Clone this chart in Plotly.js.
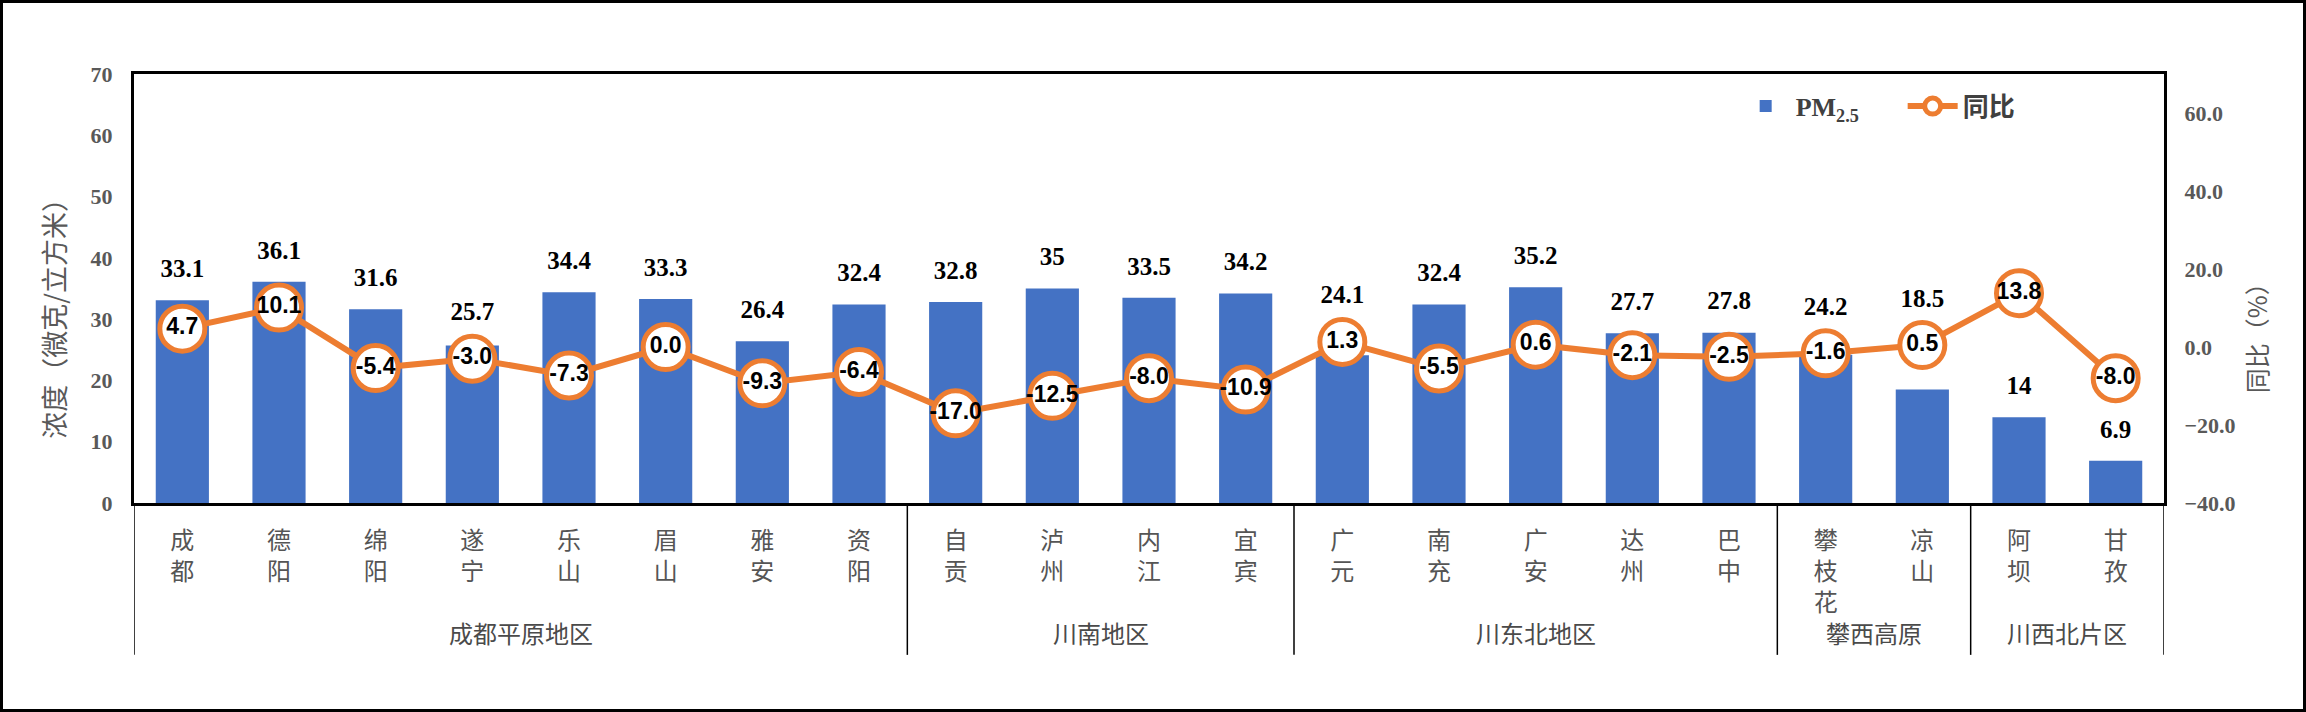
<!DOCTYPE html>
<html><head><meta charset="utf-8">
<script src="https://cdn.plot.ly/plotly-3.0.1.min.js"></script>
<style>
html,body{margin:0;padding:0;background:#fff;}
#wrap{position:relative;width:2306px;height:712px;}
#chart{position:absolute;left:0;top:0;width:2306px;height:712px;}
#frame{position:absolute;left:0;top:0;width:2306px;height:712px;box-sizing:border-box;border:3px solid #000;pointer-events:none;}
</style></head><body>
<div id="wrap"><div id="chart"></div><div id="frame"></div></div>
<script>
const cities = ['成都','德阳','绵阳','遂宁','乐山','眉山','雅安','资阳','自贡','泸州','内江','宜宾','广元','南充','广安','达州','巴中','攀枝花','凉山','阿坝','甘孜'];
const regions = ['成都平原地区','成都平原地区','成都平原地区','成都平原地区','成都平原地区','成都平原地区','成都平原地区','成都平原地区',
  '川南地区','川南地区','川南地区','川南地区',
  '川东北地区','川东北地区','川东北地区','川东北地区','川东北地区',
  '攀西高原','攀西高原',
  '川西北片区','川西北片区'];
const pm25 = [33.1,36.1,31.6,25.7,34.4,33.3,26.4,32.4,32.8,35,33.5,34.2,24.1,32.4,35.2,27.7,27.8,24.2,18.5,14,6.9];
const yoy = [4.7,10.1,-5.4,-3.0,-7.3,0.0,-9.3,-6.4,-17.0,-12.5,-8.0,-10.9,1.3,-5.5,0.6,-2.1,-2.5,-1.6,0.5,13.8,-8.0];
const leftTicks = [0,10,20,30,40,50,60,70];
const rightTicks = [-40,-20,0,20,40,60];
const leftTitle = '浓度（微克/立方米）';
const rightTitle = '同比（%）';

const Y1 = [0,70], Y2 = [-40,70];
const x = cities.map(c => c.split('').join('<br>'));
const toLeft = r => (r - Y2[0]) / (Y2[1]-Y2[0]) * (Y1[1]-Y1[0]) + Y1[0];
// place bar labels above bar, or above the line marker if it sits near the bar top
const labelY = pm25.map((v,i) => {
  const m = toLeft(yoy[i]);
  let y = v + 4.8;
  if (m > v - 3 && m < v + 10) y = Math.max(y, m + 7.3);
  return y;
});

// region groups: boundaries and centres derived from the regions array
const groups = [];
regions.forEach((r,i) => {
  if (!groups.length || groups[groups.length-1].name !== r) groups.push({name:r, start:i, end:i});
  else groups[groups.length-1].end = i;
});
const cjk = 'Noto Sans CJK SC';
const shapes = [];
const annotations = [];
groups.forEach((g,k) => {
  if (k === 0) shapes.push({type:'line', xref:'x', yref:'paper', x0:g.start-0.5, x1:g.start-0.5, y0:0, y1:-0.354, line:{color:'#000', width:1.5}});
  shapes.push({type:'line', xref:'x', yref:'paper', x0:g.end+0.5, x1:g.end+0.5, y0:0, y1:-0.354, line:{color:'#000', width:1.5}});
  annotations.push({xref:'x', yref:'paper', x:(g.start+g.end)/2, y:-0.303, yanchor:'middle', xanchor:'center',
    text:g.name, showarrow:false, font:{family:cjk, size:24, color:'#4a4a4a'}});
});
// axis titles (placed as in the reference, slightly below the axis centre)
annotations.push({xref:'paper', yref:'paper', x:-0.0397, y:0.447, textangle:-90, showarrow:false,
  xanchor:'center', yanchor:'middle', text:leftTitle, font:{family:cjk, size:27, color:'#595959'}});
annotations.push({xref:'paper', yref:'paper', x:1.0453, y:0.40, textangle:-90, showarrow:false,
  xanchor:'center', yanchor:'middle', text:rightTitle, font:{family:cjk, size:25, color:'#595959'}});

const traces = [
  {type:'bar', x:x, y:pm25, name:'<span style="font-family:Liberation Serif;font-weight:bold">PM<sub>2.5</sub></span>',
   marker:{color:'#4472C4'}, hoverinfo:'skip'},
  {type:'scatter', mode:'text', x:x, y:labelY, text:pm25.map(String), showlegend:false, hoverinfo:'skip',
   textposition:'middle center', cliponaxis:false,
   textfont:{family:'Liberation Serif', size:25, color:'#000', weight:700}},
  {type:'scatter', mode:'lines+markers', x:x, y:yoy, yaxis:'y2', name:'<b>同比</b>', hoverinfo:'skip',
   line:{color:'#ED7D31', width:6},
   marker:{size:45, color:'#fff', line:{color:'#ED7D31', width:5}}, cliponaxis:false},
  {type:'scatter', mode:'text', x:x, y:yoy, yaxis:'y2', text:yoy.map(v=>v.toFixed(1)), showlegend:false, hoverinfo:'skip',
   textposition:'middle center', cliponaxis:false,
   textfont:{family:'Liberation Sans', size:23, color:'#000', weight:700}}
];

const layout = {
  width:2306, height:712,
  margin:{l:134, r:142, t:74, b:209},
  paper_bgcolor:'#fff', plot_bgcolor:'#fff',
  bargap:0.45,
  showlegend:true,
  shapes:shapes, annotations:annotations,
  legend:{orientation:'h', x:0.789, y:0.925, xanchor:'left', yanchor:'middle', bgcolor:'rgba(0,0,0,0)',
    font:{family:cjk, size:26, color:'#404040'}, entrywidth:102, itemwidth:50},
  xaxis:{type:'category', range:[-0.5, cities.length-0.5], showline:true, linecolor:'#000', linewidth:3, mirror:true,
    ticks:'', showgrid:false, zeroline:false, tickangle:0,
    ticklabelstandoff:14,
    tickfont:{family:cjk, size:24, color:'#555555'}},
  yaxis:{range:Y1, tickvals:leftTicks, showline:true, linecolor:'#000', linewidth:3, showgrid:false, zeroline:false,
    ticks:'', ticklabelstandoff:14,
    tickfont:{family:'Liberation Serif', size:22, color:'#595959', weight:700}},
  yaxis2:{range:Y2, tickvals:rightTicks, tickformat:'.1f', overlaying:'y', side:'right',
    showline:true, linecolor:'#000', linewidth:3, showgrid:false, zeroline:false,
    ticks:'', ticklabelstandoff:13,
    tickfont:{family:'Liberation Serif', size:22, color:'#595959', weight:700}}
};
Plotly.newPlot('chart', traces, layout, {staticPlot:true});
</script>
</body></html>
